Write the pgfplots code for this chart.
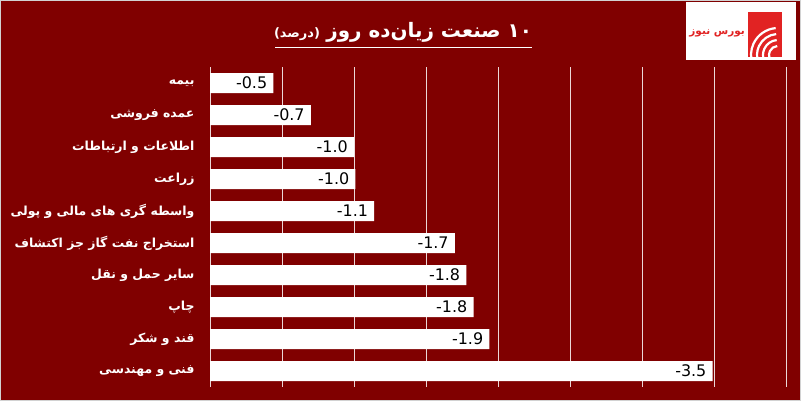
\documentclass[border=0pt]{standalone}
\usepackage{pgfplots}
\pgfplotsset{compat=1.18}
\usepackage{fontspec}
\setmainfont{DejaVu Sans}
\newfontfamily\fa[Script=Arabic]{DejaVu Sans}
\TeXXeTstate=1
\definecolor{bg}{RGB}{128,0,0}
\definecolor{logored}{RGB}{225,35,35}
\definecolor{gridc}{RGB}{235,215,215}
\begin{document}
\begin{tikzpicture}[x=1bp,y=1bp]
\fill[bg] (0,0) rectangle (801,401);
\draw[gray!35, line width=1bp] (0.5,0.5) rectangle (800.5,400.5);
\useasboundingbox (0,0) rectangle (801,401);
% title
\node[anchor=base, text=white, inner sep=0] at (403,364)
  {{\bfseries\fontsize{13}{13}\selectfont (}{\fa\bfseries\fontsize{13}{13}\selectfont\beginR درصد\endR}{\bfseries\fontsize{13}{13}\selectfont )}\ \ {\fa\bfseries\fontsize{20}{20}\selectfont\beginR ۱۰ صنعت زیان^^^^200cده روز\endR}};
\draw[white, line width=1bp] (275,354) -- (532,354);
% logo
\fill[white] (686,341) rectangle (796,399);
\fill[logored] (748,344) rectangle (782,389);
\begin{scope}
\clip (748,344) rectangle (782,389);
\foreach \r in {9,15,21,27} {\draw[white, line width=2.2bp] (778,346) ++(95:\r) arc (95:200:\r);}
\end{scope}
\node[text=logored, anchor=east, inner sep=0] at (745,368) {\fa\bfseries\fontsize{10.5}{10.5}\selectfont\beginR بورس نیوز\endR};
\begin{axis}[
  at={(210bp,14bp)}, anchor=south west, scale only axis,
  width=576bp, height=320bp,
  xmin=0, xmax=4, ymin=-0.5, ymax=9.5, y dir=reverse,
  axis line style={draw=none},
  tick style={draw=none},
  xtick={0,0.5,...,4}, xticklabels={},
  xmajorgrids, major grid style={gridc, line width=0.8bp},
  ytick={0,...,9},
  yticklabel style={font=\fa\bfseries\fontsize{12.5}{12.5}\selectfont, text=white, xshift=-12bp},
  yticklabels={
    {\beginR بیمه\endR},
    {\beginR عمده فروشی\endR},
    {\beginR اطلاعات و ارتباطات\endR},
    {\beginR زراعت\endR},
    {\beginR واسطه گری های مالی و پولی\endR},
    {\beginR استخراج نفت گاز جز اکتشاف\endR},
    {\beginR سایر حمل و نقل\endR},
    {\beginR چاپ\endR},
    {\beginR قند و شکر\endR},
    {\beginR فنی و مهندسی\endR}},
]
\addplot[xbar, fill=white, draw=none, bar width=20bp,
  point meta=explicit symbolic,
  nodes near coords,
  nodes near coords style={anchor=east, text=black, font=\fontsize{16}{16}\selectfont, inner sep=3bp, xshift=-3bp}]
coordinates {
(0.44,0) [-0.5]
(0.70,1) [-0.7]
(1.00,2) [-1.0]
(1.01,3) [-1.0]
(1.14,4) [-1.1]
(1.70,5) [-1.7]
(1.78,6) [-1.8]
(1.83,7) [-1.8]
(1.94,8) [-1.9]
(3.49,9) [-3.5]
};
\end{axis}
\end{tikzpicture}
\end{document}
